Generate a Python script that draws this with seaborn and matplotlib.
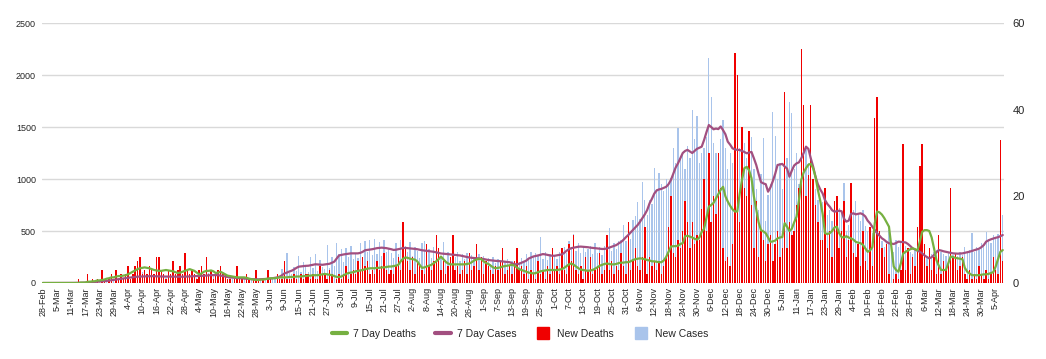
import matplotlib
matplotlib.use("Agg")

import pandas as pd
import matplotlib.pyplot as plt
import seaborn as sns
from matplotlib.lines import Line2D


START_DATE = "2020-02-28"

# daily values, one row per week (28-Feb-2020 .. 8-Apr-2021)
new_cases = [
    0, 0, 0, 1, 0, 0, 0,
    0, 1, 0, 2, 1, 2, 3,
    2, 4, 3, 6, 5, 8, 10,
    12, 9, 15, 18, 22, 20, 26,
    20, 35, 25, 45, 30, 50, 40,
    45, 80, 40, 70, 55, 90, 60,
    110, 50, 60, 85, 45, 70, 35,
    80, 45, 70, 50, 85, 40, 65,
    55, 75, 40, 80, 50, 70, 55,
    60, 90, 50, 80, 60, 85, 70,
    100, 60, 90, 70, 85, 50, 75,
    60, 40, 70, 35, 55, 45, 50,
    30, 50, 25, 45, 30, 40, 30,
    38, 30, 42, 35, 48, 40, 45,
    40, 70, 50, 130, 90, 288, 100,
    90, 150, 120, 260, 110, 200, 160,
    110, 250, 140, 280, 120, 220, 150,
    130, 365, 140, 250, 160, 381, 280,
    330, 200, 340, 250, 360, 230, 290,
    240, 380, 220, 400, 300, 410, 270,
    420, 280, 390, 260, 410, 300, 330,
    290, 240, 380, 280, 410, 330, 360,
    300, 390, 260, 350, 310, 240, 380,
    404, 260, 330, 240, 350, 270, 300,
    260, 394, 220, 300, 240, 320, 250,
    300, 210, 280, 230, 290, 200, 270,
    250, 190, 280, 200, 260, 210, 240,
    180, 250, 190, 230, 170, 240, 200,
    230, 160, 210, 150, 180, 200, 240,
    210, 280, 230, 300, 250, 290, 260,
    445, 230, 300, 220, 280, 240, 260,
    230, 300, 260, 350, 290, 400, 330,
    471, 310, 380, 290, 360, 300, 330,
    360, 280, 380, 290, 350, 270, 360,
    300, 529, 310, 380, 330, 400, 410,
    561, 400, 480, 420, 609, 646, 782,
    620, 974, 798, 650, 800, 760, 1105,
    900, 1060, 950, 880, 1000, 940, 1010,
    1298, 1150, 1490, 1200, 1250, 1100, 1320,
    1200, 1663, 1380, 1604, 1150, 1250, 1300,
    1400, 2160, 1791, 1350, 1250, 1200, 1380,
    1567, 1300, 1100, 1250, 1150, 1350, 1260,
    1300, 1150, 1350, 1200, 1250, 1400, 1100,
    900, 700, 1050, 1391, 600, 850, 950,
    1647, 1410, 1000, 1150, 900, 1050, 1200,
    1743, 1630, 1100, 1250, 950, 1200, 1400,
    1300, 1150, 1000, 850, 900, 800, 750,
    780, 720, 650, 700, 600, 650, 680,
    720, 680, 958, 500, 560, 620, 700,
    790, 650, 600, 700, 550, 500, 520,
    480, 450, 420, 380, 400, 350, 380,
    510, 380, 300, 413, 350, 400, 380,
    360, 330, 300, 280, 320, 260, 300,
    240, 220, 260, 200, 280, 300, 320,
    365, 300, 280, 260, 290, 300, 270,
    280, 260, 300, 270, 350, 290, 320,
    478, 300, 350, 320, 380, 360, 494,
    420, 380, 460, 430, 470, 440, 654,
]

new_deaths = [
    0, 0, 0, 0, 0, 0, 0,
    0, 0, 0, 0, 0, 0, 0,
    0, 1, 0, 0, 0, 2, 0,
    1, 0, 1, 0, 3, 1, 0,
    1, 2, 0, 3, 1, 2, 1,
    2, 4, 1, 2, 4, 5, 6,
    2, 3, 2, 4, 3, 2, 6,
    6, 3, 2, 1, 3, 2, 5,
    2, 3, 4, 2, 7, 3, 2,
    3, 2, 1, 3, 4, 2, 6,
    2, 3, 1, 2, 3, 4, 2,
    2, 1, 1, 0, 1, 4, 1,
    1, 0, 2, 1, 0, 1, 3,
    1, 0, 1, 0, 3, 1, 0,
    0, 2, 1, 1, 5, 1, 1,
    1, 2, 1, 0, 2, 1, 2,
    2, 1, 2, 1, 1, 4, 2,
    2, 1, 3, 2, 0, 1, 2,
    1, 2, 4, 1, 2, 3, 2,
    5, 3, 6, 4, 5, 2, 3,
    2, 5, 3, 4, 7, 3, 2,
    3, 2, 4, 6, 3, 14, 8,
    5, 3, 6, 2, 5, 4, 3,
    2, 9, 4, 3, 5, 11, 8,
    3, 5, 2, 4, 6, 11, 3,
    4, 2, 3, 5, 2, 7, 3,
    4, 9, 3, 6, 2, 5, 4,
    3, 2, 4, 3, 5, 8, 2,
    3, 4, 2, 5, 8, 3, 4,
    2, 4, 1, 3, 2, 1, 5,
    2, 3, 1, 4, 2, 8, 3,
    4, 2, 8, 3, 2, 9, 5,
    11, 3, 2, 4, 1, 6, 3,
    6, 2, 3, 4, 7, 2, 3,
    11, 3, 5, 2, 4, 3, 7,
    4, 2, 14, 3, 5, 8, 4,
    3, 6, 13, 2, 6, 4, 5,
    3, 5, 2, 4, 6, 13, 20,
    7, 6, 10, 8, 12, 19, 14,
    8, 14, 9, 11, 10, 17, 24,
    12, 30, 14, 20, 16, 30, 22,
    8, 5, 6, 4, 9, 53, 48,
    14, 36, 22, 20, 35, 18, 8,
    19, 6, 12, 10, 5, 9, 11,
    5, 9, 12, 6, 8, 44, 8,
    14, 11, 12, 18, 22, 54, 41,
    20, 25, 41, 24, 18, 14, 10,
    10, 22, 8, 12, 6, 19, 20,
    8, 12, 19, 6, 10, 23, 7,
    6, 9, 4, 12, 5, 3, 13,
    4, 38, 43, 12, 8, 6, 9,
    2, 0, 1, 2, 1, 3, 32,
    3, 8, 2, 6, 4, 13, 27,
    32, 9, 4, 8, 3, 6, 2,
    11, 2, 5, 3, 5, 22, 6,
    7, 3, 4, 6, 2, 1, 3,
    1, 2, 1, 4, 2, 1, 3,
    1, 2, 6, 3, 2, 33, 5,
]

avg_cases = [
    0, 0, 0, 0, 0, 0, 0,
    0, 0, 1, 1, 1, 1, 1,
    2, 2, 2, 3, 4, 5, 6,
    8, 10, 12, 14, 16, 18, 20,
    24, 27, 30, 33, 36, 40, 44,
    47, 50, 53, 56, 59, 61, 62,
    63, 64, 65, 65, 66, 65, 64,
    63, 63, 62, 62, 62, 62, 61,
    61, 60, 60, 60, 61, 62, 63,
    64, 65, 66, 67, 68, 70, 72,
    74, 75, 76, 76, 75, 72, 68,
    62, 57, 54, 52, 50, 48, 46,
    44, 42, 40, 39, 37, 36, 35,
    35, 36, 37, 38, 40, 42, 46,
    50, 54, 62, 75, 93, 100, 110,
    118, 130, 145, 157, 160, 163, 165,
    166, 170, 175, 180, 178, 176, 175,
    178, 182, 185, 195, 205, 235, 265,
    270, 275, 278, 282, 285, 285, 285,
    285, 290, 300, 315, 318, 320, 325,
    330, 335, 338, 340, 338, 335, 330,
    325, 318, 320, 325, 330, 337, 337,
    335, 332, 330, 328, 325, 320, 315,
    312, 310, 307, 303, 300, 295, 290,
    284, 282, 280, 277, 275, 272, 270,
    267, 265, 260, 255, 250, 245, 242,
    240, 238, 236, 235, 230, 225, 221,
    218, 215, 213, 212, 210, 207, 205,
    202, 200, 190, 180, 180, 185, 195,
    205, 215, 235, 245, 255, 260, 265,
    272, 278, 275, 270, 265, 262, 262,
    266, 270, 275, 290, 310, 325, 335,
    340, 345, 349, 350, 348, 345, 344,
    340, 338, 335, 332, 330, 327, 328,
    332, 340, 348, 355, 365, 381, 395,
    415, 440, 461, 485, 510, 535, 558,
    590, 625, 660, 702, 766, 810, 860,
    890, 900, 905, 915, 925, 950, 990,
    1050, 1110, 1151, 1200, 1250, 1270, 1280,
    1265, 1250, 1270, 1290, 1300, 1311, 1375,
    1450, 1519, 1500, 1478, 1485, 1480, 1505,
    1470, 1430, 1359, 1330, 1295, 1285, 1280,
    1279, 1270, 1260, 1247, 1255, 1260, 1200,
    1135, 1050, 970, 958, 950, 878, 920,
    980, 1050, 1135, 1140, 1145, 1120, 1100,
    1022, 1080, 1130, 1150, 1160, 1199, 1250,
    1311, 1290, 1200, 1120, 1022, 950, 900,
    862, 798, 760, 734, 700, 686, 690,
    695, 690, 620, 590, 600, 665, 670,
    660, 665, 670, 660, 640, 600, 574,
    540, 510, 478, 455, 430, 415, 395,
    382, 378, 375, 385, 398, 395, 392,
    390, 375, 355, 333, 322, 312, 301,
    285, 265, 250, 237, 248, 270, 295,
    317, 312, 305, 300, 295, 290, 285,
    283, 282, 283, 285, 290, 295, 301,
    308, 316, 323, 330, 345, 365, 398,
    410, 420, 428, 435, 440, 450, 461,
]

avg_deaths = [
    0, 0, 0, 0, 0, 0, 0,
    0, 0, 0, 0, 0, 0, 0,
    0, 0, 0.1, 0.1, 0.1, 0.3, 0.3,
    0.4, 0.4, 0.6, 0.6, 0.7, 0.8, 1.0,
    1.1, 1.3, 1.3, 1.5, 1.6, 1.6, 1.7,
    1.8, 2.0, 2.3, 2.6, 2.9, 3.2, 3.4,
    3.5, 3.6, 3.5, 3.4, 3.2, 3.0, 2.9,
    2.8, 2.8, 2.9, 3.0, 2.9, 2.8, 2.7,
    2.5, 2.3, 2.4, 2.6, 2.8, 3.0, 3.2,
    3.0, 2.8, 2.4, 2.0, 2.2, 2.6, 2.8,
    2.8, 2.9, 2.7, 2.3, 2.4, 2.6, 2.3,
    2.0, 1.7, 1.6, 1.5, 1.4, 1.3, 1.3,
    1.3, 1.3, 1.2, 1.0, 0.9, 0.8, 0.7,
    0.7, 0.8, 0.8, 0.9, 1.0, 1.1, 1.1,
    1.1, 1.2, 1.3, 1.3, 1.3, 1.3, 1.4,
    1.4, 1.4, 1.5, 1.5, 1.5, 1.6, 1.6,
    1.7, 1.7, 1.8, 1.8, 1.8, 1.9, 2.0,
    2.1, 2.0, 1.9, 1.8, 1.6, 1.4, 1.4,
    1.5, 1.8, 2.1, 2.3, 2.4, 2.5, 2.7,
    2.8, 2.9, 3.0, 3.2, 3.3, 3.4, 3.4,
    3.4, 3.5, 3.5, 3.6, 3.6, 3.7, 3.8,
    3.8, 3.9, 4.0, 4.2, 5.0, 5.6, 5.9,
    5.8, 5.6, 5.5, 5.4, 5.0, 4.2, 3.5,
    3.6, 3.8, 4.0, 4.2, 4.6, 5.0, 5.5,
    6.1, 5.5, 4.9, 4.5, 4.3, 4.3, 4.3,
    4.3, 4.3, 4.3, 4.3, 4.4, 4.5, 4.8,
    5.2, 5.4, 5.6, 5.5, 5.0, 4.6, 4.4,
    4.0, 3.6, 3.4, 3.5, 3.6, 3.8, 3.9,
    4.0, 4.1, 4.2, 4.0, 3.6, 3.2, 3.0,
    2.8, 2.6, 2.4, 2.3, 2.2, 2.3, 2.5,
    2.7, 2.8, 2.9, 3.0, 3.0, 3.0, 3.0,
    3.0, 3.1, 3.2, 3.5, 3.9, 4.3, 4.5,
    4.2, 3.8, 3.4, 3.1, 3.0, 2.9, 2.8,
    2.9, 3.0, 3.3, 3.6, 4.0, 4.2, 4.4,
    4.5, 4.4, 4.3, 4.3, 4.4, 4.6, 4.7,
    4.7, 4.8, 4.8, 5.0, 5.3, 5.5, 5.6,
    5.7, 5.6, 5.5, 5.3, 5.2, 5.0, 5.0,
    4.9, 4.8, 4.8, 5.2, 6.0, 7.2, 8.4,
    8.5, 8.5, 8.6, 9.0, 9.2, 10.8, 10.9,
    10.7, 10.5, 10.2, 10.0, 10.5, 11.8, 12.5,
    15.0, 17.6, 18.0, 18.5, 19.5, 20.5, 21.5,
    22.2, 20.0, 18.8, 17.8, 17.0, 16.5, 16.5,
    20.5, 23.8, 26.5, 26.8, 26.0, 24.2, 20.0,
    17.0, 14.0, 12.2, 11.9, 11.5, 10.5, 9.5,
    9.6, 9.8, 10.3, 10.5, 10.6, 13.8, 13.0,
    12.0, 12.5, 14.0, 15.3, 19.0, 23.8, 25.5,
    26.5, 27.3, 27.5, 26.5, 24.5, 21.5, 19.0,
    16.0, 11.5, 11.3, 11.5, 12.0, 12.8, 13.0,
    11.5, 10.6, 10.5, 10.8, 10.5, 10.3, 10.0,
    9.5, 9.3, 9.2, 8.8, 8.0, 7.2, 7.5,
    8.3, 13.8, 16.5, 16.3, 15.8, 15.0, 14.0,
    13.0, 8.4, 3.8, 3.0, 2.6, 4.5, 6.8,
    7.2, 7.5, 7.8, 8.0, 7.8, 7.5, 9.5,
    11.8, 12.2, 12.2, 12.0, 10.5, 8.0, 5.3,
    4.0, 3.0, 3.0, 3.0, 4.5, 6.1, 6.0,
    5.8, 5.7, 5.6, 5.5, 3.5, 2.6, 2.2,
    1.8, 1.8, 1.8, 1.8, 1.9, 2.0, 2.0,
    2.1, 2.3, 2.5, 3.8, 5.5, 7.2, 7.6,
]

CASES_TICKS = [0, 500, 1000, 1500, 2000, 2500]
DEATHS_TICKS = [0, 20, 40, 60]

BLUE = "#A9C4EB"
RED = "#F00000"
GREEN = "#76B041"
PURPLE = "#A24F80"
GRID = "#D9D9D9"


def build_frame():
    n = len(new_cases)
    assert len(new_deaths) == n and len(avg_cases) == n and len(avg_deaths) == n
    df = pd.DataFrame({
        "day": range(n),
        "date": pd.date_range(START_DATE, periods=n, freq="D"),
        "new_cases": new_cases,
        "new_deaths": new_deaths,
        "avg_cases": avg_cases,
        "avg_deaths": avg_deaths,
    })
    return df


def draw(df):
    n = len(df)

    sns.set_theme(style="white")
    plt.rcParams["font.family"] = ["Liberation Sans", "DejaVu Sans"]

    fig = plt.figure(figsize=(10.46, 3.59), dpi=100)
    ax = fig.add_axes([0.0397, 0.2117, 0.9201, 0.7242])

    # bars: cases on the left axis, deaths on the right axis
    sns.barplot(data=df, x="day", y="new_cases", ax=ax, color=BLUE,
                saturation=1, width=0.55, linewidth=0, native_scale=True,
                errorbar=None)
    ax2 = ax.twinx()
    sns.barplot(data=df, x="day", y="new_deaths", ax=ax2, color=RED,
                saturation=1, width=0.6, linewidth=0, native_scale=True,
                errorbar=None)

    # 7 day lines drawn above both bar series
    ax3 = ax.twinx()
    sns.lineplot(data=df, x="day", y="avg_cases", ax=ax3, color=PURPLE,
                 linewidth=1.6)
    ax4 = ax.twinx()
    sns.lineplot(data=df, x="day", y="avg_deaths", ax=ax4, color=GREEN,
                 linewidth=1.6)

    ax.set_ylim(0, 2500)
    ax3.set_ylim(0, 2500)
    ax2.set_ylim(0, 60)
    ax4.set_ylim(0, 60)
    ax.set_xlim(-0.5, n - 0.5)

    ax.set_yticks(CASES_TICKS)
    ax.set_yticklabels([str(t) for t in CASES_TICKS], fontsize=6.5)
    ax2.set_yticks(DEATHS_TICKS)
    ax2.set_yticklabels([str(t) for t in DEATHS_TICKS], fontsize=8)
    ax3.set_yticks([])
    ax4.set_yticks([])

    tick_pos = list(range(0, n, 6))
    tick_labels = [f"{d.day}-{d.strftime('%b')}" for d in df["date"].iloc[tick_pos]]
    ax.set_xticks(tick_pos)
    ax.set_xticklabels(tick_labels, rotation=90, fontsize=6.5)

    ax.tick_params(axis="x", length=0, pad=3)
    ax.tick_params(axis="y", length=0, pad=4)
    ax2.tick_params(axis="y", length=0, pad=6)

    ax.yaxis.grid(True, color=GRID, linewidth=1)
    ax.set_axisbelow(True)

    for a in (ax, ax2, ax3, ax4):
        a.set_xlabel("")
        a.set_ylabel("")
        for side in a.spines:
            a.spines[side].set_visible(False)

    handles = [
        Line2D([], [], color=GREEN, linewidth=3),
        Line2D([], [], color=PURPLE, linewidth=3),
        Line2D([], [], color=RED, marker="s", linestyle="none", markersize=8),
        Line2D([], [], color=BLUE, marker="s", linestyle="none", markersize=8),
    ]
    labels = ["7 Day Deaths", "7 Day Cases", "New Deaths", "New Cases"]
    fig.legend(handles, labels, loc="center", bbox_to_anchor=(0.497, 0.07),
               ncol=4, frameon=False, fontsize=7.5, handlelength=1.5,
               columnspacing=1.8, handletextpad=0.6)

    fig.savefig("out.png", dpi=100)


def main():
    df = build_frame()
    draw(df)


if __name__ == "__main__":
    main()
